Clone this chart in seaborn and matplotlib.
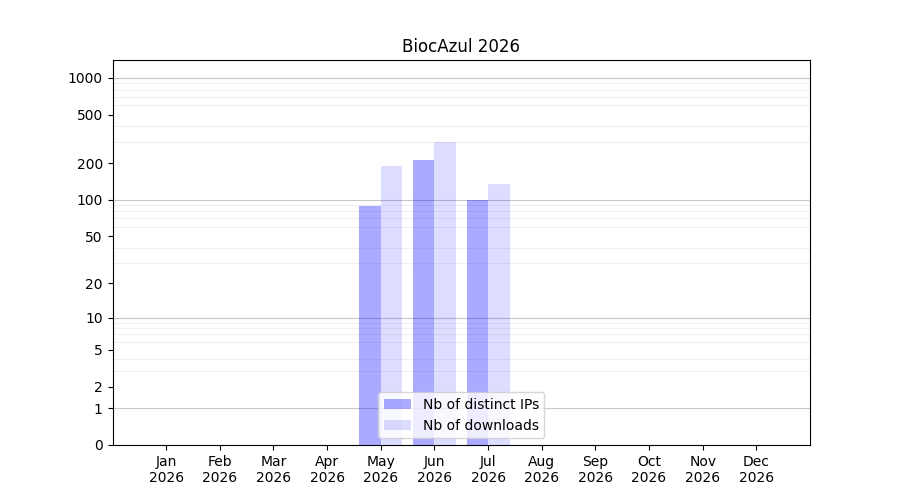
import numpy as np
import pandas as pd
import matplotlib
matplotlib.use("Agg")
import matplotlib.pyplot as plt
import matplotlib.ticker as mticker
import seaborn as sns

YEAR = 2026
months = ["Jan", "Feb", "Mar", "Apr", "May", "Jun",
          "Jul", "Aug", "Sep", "Oct", "Nov", "Dec"]
distinct_ips = [0, 0, 0, 0, 89, 214, 100, 0, 0, 0, 0, 0]
downloads = [0, 0, 0, 0, 188, 301, 136, 0, 0, 0, 0, 0]
ytick_values = [0, 1, 2, 5, 10, 20, 50, 100, 200, 500, 1000]


def forward(x):
    return np.log10(1 + np.clip(x, 0, None))


def inverse(y):
    return 10 ** y - 1


def main():
    df = pd.DataFrame({
        "month": months * 2,
        "count": distinct_ips + downloads,
        "kind": ["Nb of distinct IPs"] * 12 + ["Nb of downloads"] * 12,
    })

    fig, ax = plt.subplots(figsize=(9, 5), dpi=100)
    ax.set_yscale("function", functions=(forward, inverse))

    sns.barplot(data=df, x="month", y="count", hue="kind", order=months,
                palette=["blue", "blue"], saturation=1, width=0.8,
                linewidth=0, errorbar=None, ax=ax, zorder=2)

    # translucent bars, like the original
    for cont, alpha in zip(ax.containers, [1 / 3, 0.133]):
        for p in cont:
            p.set_alpha(alpha)

    # grid: decades darker, 2..9 lighter
    minor = [d * 10 ** k for k in range(0, 3) for d in range(2, 10)]
    ax.yaxis.set_minor_locator(mticker.FixedLocator(minor))
    ax.yaxis.set_major_locator(mticker.FixedLocator(ytick_values))
    ax.yaxis.set_major_formatter(mticker.FixedFormatter([str(v) for v in ytick_values]))
    ax.tick_params(axis="y", which="minor", length=0)
    ax.grid(False)
    ax.grid(True, axis="y", which="minor", color="#f0f0f0", linewidth=0.8, zorder=0)
    for v in [1, 10, 100, 1000]:
        ax.axhline(v, color="#c8c8c8", linewidth=0.8, zorder=1)
    ax.set_axisbelow(True)

    ax.set_ylim(0, 1400)
    ax.set_xlim(-1, 12)
    ax.set_xticks(range(12))
    ax.set_xticklabels(["{}\n{}".format(m, YEAR) for m in months])
    ax.set_xlabel("")
    ax.set_ylabel("")
    ax.set_title("BiocAzul {}".format(YEAR))

    ax.legend(ax.containers, ["Nb of distinct IPs", "Nb of downloads"],
              loc="lower center")

    fig.savefig("out.png", dpi=100)


if __name__ == "__main__":
    main()
